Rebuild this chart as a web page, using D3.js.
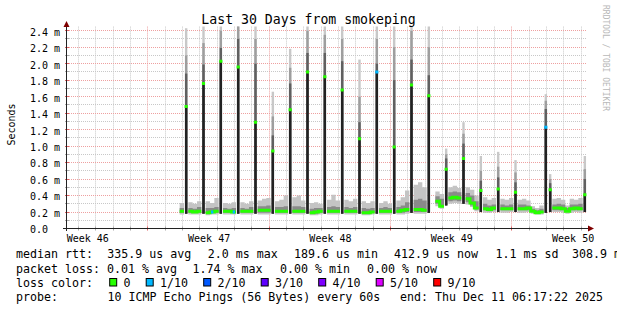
<!DOCTYPE html>
<html>
<head>
<meta charset="utf-8">
<script src="https://cdn.jsdelivr.net/npm/d3@7"></script>
<style>
  body { margin: 0; background: #fff; }
  text { font-family: "DejaVu Sans Mono", monospace; }
</style>
</head>
<body>
<div id="chart"></div>
<script>
// x axis: days since start of the 30 day window
const weekLabels = ["Week 46", "Week 47", "Week 48", "Week 49", "Week 50"];
const weekStartDays = [-2.33, 4.67, 11.67, 18.67, 25.67];

const yTickValues = [0, 0.2, 0.4, 0.6, 0.8, 1.0, 1.2, 1.4, 1.6, 1.8, 2.0, 2.2, 2.4];
const yTickLabels = ["0.0", "0.2 m", "0.4 m", "0.6 m", "0.8 m", "1.0 m", "1.2 m",
                     "1.4 m", "1.6 m", "1.8 m", "2.0 m", "2.2 m", "2.4 m"];

// 6 hour bins, first bin starts at day 6.5 (null = unknown / spike bin)
const firstBinDay = 6.5;
const binDays = 0.25;
const medianRtt = [
  0.21, null, 0.21, 0.20, 0.21, null, 0.19, 0.20, 0.21, null,
  0.21, 0.21, 0.20, null, 0.21, 0.21, 0.21, null, 0.22, 0.22,
  0.22, null, 0.21, 0.21, 0.21, null, 0.21, 0.21, 0.21, null,
  0.19, 0.20, 0.21, null, 0.21, 0.21, 0.21, null, 0.21, 0.21,
  0.21, null, 0.19, 0.19, 0.20, null, 0.21, 0.21, 0.21, null,
  0.21, 0.22, 0.23, null, 0.23, 0.23, 0.22, null, null, 0.33,
  0.27, null, 0.37, 0.38, 0.37, null, 0.36, 0.31, 0.25, null,
  0.24, 0.23, 0.25, null, 0.24, 0.24, 0.24, null, 0.24, 0.24,
  0.25, 0.21, 0.19, 0.20, null, null, 0.25, 0.25, 0.24, 0.21,
  0.24, 0.25, 0.24, null];
const smokeMin = [
  0.17, null, 0.17, 0.17, 0.17, null, 0.16, 0.17, 0.17, null,
  0.17, 0.17, 0.17, null, 0.17, 0.17, 0.17, null, 0.17, 0.17,
  0.17, null, 0.17, 0.17, 0.17, null, 0.17, 0.17, 0.17, null,
  0.16, 0.16, 0.17, null, 0.17, 0.17, 0.17, null, 0.17, 0.17,
  0.17, null, 0.16, 0.16, 0.17, null, 0.17, 0.17, 0.17, null,
  0.17, 0.17, 0.18, null, 0.18, 0.18, 0.18, null, null, 0.27,
  0.24, null, 0.30, 0.31, 0.30, null, 0.29, 0.26, 0.21, null,
  0.19, 0.19, 0.20, null, 0.19, 0.19, 0.20, null, 0.19, 0.19,
  0.20, 0.18, 0.17, 0.17, null, null, 0.20, 0.20, 0.19, 0.18,
  0.19, 0.20, 0.19, null];
const smokeLowMid = [
  0.19, null, 0.19, 0.19, 0.19, null, 0.18, 0.19, 0.19, null,
  0.19, 0.19, 0.19, null, 0.19, 0.19, 0.19, null, 0.19, 0.19,
  0.19, null, 0.19, 0.19, 0.19, null, 0.19, 0.19, 0.19, null,
  0.18, 0.18, 0.19, null, 0.19, 0.19, 0.19, null, 0.19, 0.19,
  0.19, null, 0.18, 0.18, 0.19, null, 0.19, 0.19, 0.19, null,
  0.19, 0.19, 0.20, null, 0.20, 0.20, 0.20, null, null, 0.30,
  0.26, null, 0.33, 0.34, 0.33, null, 0.32, 0.28, 0.23, null,
  0.22, 0.21, 0.22, null, 0.22, 0.22, 0.22, null, 0.22, 0.22,
  0.22, 0.20, 0.18, 0.19, null, null, 0.22, 0.22, 0.22, 0.20,
  0.22, 0.22, 0.22, null];
const smokeHighMid = [
  0.25, null, 0.25, 0.24, 0.26, null, 0.25, 0.25, 0.26, null,
  0.25, 0.24, 0.25, null, 0.25, 0.24, 0.26, null, 0.27, 0.27,
  0.28, null, 0.26, 0.26, 0.27, null, 0.27, 0.27, 0.26, null,
  0.24, 0.25, 0.25, null, 0.26, 0.27, 0.26, null, 0.26, 0.25,
  0.26, null, 0.25, 0.24, 0.25, null, 0.25, 0.26, 0.25, null,
  0.26, 0.28, 0.32, null, 0.35, 0.36, 0.34, null, null, 0.39,
  0.36, null, 0.44, 0.45, 0.44, null, 0.43, 0.40, 0.33, null,
  0.30, 0.28, 0.29, null, 0.29, 0.28, 0.29, null, 0.29, 0.29,
  0.28, 0.24, 0.22, 0.24, null, null, 0.29, 0.30, 0.29, 0.25,
  0.29, 0.29, 0.30, null];
const smokeMax = [
  0.31, null, 0.32, 0.30, 0.33, null, 0.33, 0.31, 0.37, null,
  0.31, 0.30, 0.32, null, 0.32, 0.30, 0.33, null, 0.34, 0.36,
  0.37, null, 0.33, 0.35, 0.40, null, 0.38, 0.40, 0.34, null,
  0.31, 0.32, 0.30, null, 0.35, 0.41, 0.34, null, 0.35, 0.33,
  0.36, null, 0.33, 0.31, 0.33, null, 0.31, 0.33, 0.30, null,
  0.34, 0.38, 0.46, null, 0.53, 0.56, 0.50, null, null, 0.45,
  0.42, null, 0.50, 0.52, 0.49, null, 0.50, 0.47, 0.40, null,
  0.38, 0.35, 0.37, null, 0.36, 0.35, 0.37, null, 0.35, 0.36,
  0.34, 0.27, 0.25, 0.28, null, null, 0.36, 0.37, 0.35, 0.28,
  0.36, 0.35, 0.37, null];
// bins with packet loss (count out of 10)
const lossBins = [7, 12];
const lossBinCount = [1, 1];

// daily spikes
const spikeDays = [6.875, 7.875, 8.875, 9.875, 10.875, 11.875, 12.875, 13.875, 14.875,
  15.875, 16.875, 17.875, 18.875, 19.875, 20.875, 21.875, 22.875, 23.875, 24.875,
  25.875, 27.625, 27.875, 29.875];
const spikeBase = [0.18, 0.18, 0.18, 0.18, 0.18, 0.18, 0.18, 0.18, 0.18, 0.18, 0.18, 0.18,
  0.18, 0.19, 0.19, 0.28, 0.30, 0.20, 0.20, 0.20, 0.19, 0.20, 0.20];
const spikeMedian = [1.48, 1.76, 2.03, 1.96, 1.29, 0.94, 1.44, 1.90, 1.84, 1.68, 1.09, 1.90,
  0.99, 1.74, 1.61, 0.72, 0.85, 0.46, 0.48, 0.44, 1.23, 0.47, 0.41];
const spikeUpper = [1.88, 1.99, 2.19, 2.30, 2.00, 1.13, 1.76, 2.13, 2.13, 2.03, 1.29, 2.00,
  1.80, 2.05, 1.86, 0.85, 1.03, 0.58, 0.62, 0.56, 1.45, 0.55, 0.60];
const spikeMid = [2.10, 2.25, 2.40, 2.50, 2.30, 1.36, 1.95, 2.40, 2.35, 2.30, 1.60, 2.30,
  2.20, 2.40, 2.20, 0.90, 1.15, 0.70, 0.75, 0.68, 1.55, 0.60, 0.72];
const spikeTop = [2.43, 2.60, 2.60, 2.60, 2.60, 1.66, 2.18, 2.60, 2.60, 2.60, 2.05, 2.60,
  2.60, 2.60, 2.60, 0.97, 1.29, 0.88, 0.93, 0.83, 1.63, 0.66, 0.88];
const spikeLoss = [0, 0, 0, 0, 0, 0, 0, 0, 0, 0, 0, 1, 0, 0, 0, 0, 0, 0, 0, 0, 1, 0, 0];

// legend
const lossLabels = ["0", "1/10", "2/10", "3/10", "4/10", "5/10", "9/10"];
const lossCounts = [0, 1, 2, 3, 4, 5, 9];
const lossColors = ["#26ff00", "#00b8ff", "#0059ff", "#5e00ff", "#7e00ff", "#dd00ff", "#ff0000"];
const rttLegend = ["median rtt:", "335.9 us avg", "2.0 ms max", "189.6 us min",
                   "412.9 us now", "1.1 ms sd", "308.9 m am/as"];
const lossLegend = ["packet loss:", "0.01 % avg", "1.74 % max", "0.00 % min", "0.00 % now"];
const probeLegend = ["probe:", "10 ICMP Echo Pings (56 Bytes) every 60s",
                     "end: Thu Dec 11 06:17:22 2025"];

const width = 617, height = 310;
const plot = { left: 67, right: 587, top: 26.6, bottom: 228.5 };

const svg = d3.select("#chart").append("svg")
    .attr("width", width)
    .attr("height", height);

svg.append("rect").attr("width", width).attr("height", height).attr("fill", "#fff");

const x = d3.scaleLinear().domain([0, 30]).range([plot.left, plot.right]);
const y = d3.scaleLinear().domain([0, 2.45]).range([plot.bottom, plot.top]);
const crisp = v => Math.round(v - 0.5) + 0.5;
const lossColor = c => lossColors[lossCounts.indexOf(c)];

// grid
const minorY = d3.range(0.1, 2.45, 0.2);
const dayLines = d3.range(weekStartDays[0], 30, 1).filter(d => d > 0.01);
const isWeek = d => weekStartDays.some(w => Math.abs(w - d) < 0.01);
const grid = svg.append("g");
grid.selectAll(".vmin").data(dayLines.filter(d => !isWeek(d)))
    .enter().append("line")
    .attr("x1", d => crisp(x(d))).attr("x2", d => crisp(x(d)))
    .attr("y1", plot.top).attr("y2", plot.bottom)
    .attr("stroke", "#c8c8c8").attr("stroke-dasharray", "1,1");
grid.selectAll(".hmin").data(minorY).enter().append("line")
    .attr("x1", plot.left).attr("x2", plot.right)
    .attr("y1", d => crisp(y(d))).attr("y2", d => crisp(y(d)))
    .attr("stroke", "#c8c8c8").attr("stroke-dasharray", "1,1");
grid.selectAll(".vmaj").data(weekStartDays.filter(d => d > 0)).enter().append("line")
    .attr("x1", d => crisp(x(d))).attr("x2", d => crisp(x(d)))
    .attr("y1", plot.top).attr("y2", plot.bottom)
    .attr("stroke", "#eea0a0").attr("stroke-dasharray", "1,1");
grid.selectAll(".hmaj").data(yTickValues.filter(d => d > 0)).enter().append("line")
    .attr("x1", plot.left).attr("x2", plot.right)
    .attr("y1", d => crisp(y(d))).attr("y2", d => crisp(y(d)))
    .attr("stroke", "#eea0a0").attr("stroke-dasharray", "1,1");

// clip
svg.append("clipPath").attr("id", "clip").append("rect")
    .attr("x", plot.left).attr("y", plot.top)
    .attr("width", plot.right - plot.left).attr("height", plot.bottom - plot.top);
const data = svg.append("g").attr("clip-path", "url(#clip)");

// baseline smoke as step areas
const bins = medianRtt.map((m, i) => ({
    d0: firstBinDay + i * binDays,
    d1: firstBinDay + (i + 1) * binDays,
    median: m, min: smokeMin[i], lowMid: smokeLowMid[i],
    highMid: smokeHighMid[i], max: smokeMax[i]
}));
const pts = bins.flatMap(b => [{ day: b.d0, ...b }, { day: b.d1, ...b }]);
const defined = d => d.median != null;

data.append("path")
    .attr("d", d3.area().defined(defined).x(d => x(d.day))
        .y0(d => y(d.min)).y1(d => y(d.max))(pts))
    .attr("fill", "#c4c4c4");
data.append("path")
    .attr("d", d3.area().defined(defined).x(d => x(d.day))
        .y0(d => y(d.lowMid)).y1(d => y(d.highMid))(pts))
    .attr("fill", "#8a8a8a");

// spikes
const spikes = spikeDays.map((d, i) => ({
    day: d, base: spikeBase[i], median: spikeMedian[i], upper: spikeUpper[i],
    mid: spikeMid[i], top: spikeTop[i], loss: spikeLoss[i]
}));
const spikeW = 2.4;
const layers = [["top", "#c8c8c8"], ["mid", "#9e9e9e"], ["upper", "#606060"], ["median", "#222222"]];
layers.forEach(([key, col]) => {
    data.selectAll(".s-" + key).data(spikes).enter().append("rect")
        .attr("x", d => x(d.day) - spikeW / 2)
        .attr("width", spikeW)
        .attr("y", d => y(d[key]))
        .attr("height", d => y(d.base) - y(d[key]))
        .attr("fill", col);
});

// median line
data.append("path")
    .attr("d", d3.line().defined(defined).x(d => x(d.day)).y(d => y(d.median))(pts))
    .attr("fill", "none").attr("stroke", lossColors[0]).attr("stroke-width", 3);
data.selectAll(".lossbin").data(lossBins).enter().append("line")
    .attr("x1", i => x(bins[i].d0) + 1).attr("x2", i => x(bins[i].d1) - 1)
    .attr("y1", i => y(bins[i].median)).attr("y2", i => y(bins[i].median))
    .attr("stroke", (i, k) => lossColor(lossBinCount[k])).attr("stroke-width", 3);
data.selectAll(".smed").data(spikes).enter().append("line")
    .attr("x1", d => x(d.day) - 1.6).attr("x2", d => x(d.day) + 1.6)
    .attr("y1", d => y(d.median)).attr("y2", d => y(d.median))
    .attr("stroke", d => lossColor(d.loss)).attr("stroke-width", 3);

// axis ticks
const ticks = svg.append("g");
ticks.selectAll(".xt").data(dayLines).enter().append("line")
    .attr("x1", d => crisp(x(d))).attr("x2", d => crisp(x(d)))
    .attr("y1", plot.bottom - 2).attr("y2", plot.bottom + 2)
    .attr("stroke", d => isWeek(d) ? "#e06060" : "#aaa");
ticks.selectAll(".yt").data(d3.range(0.1, 2.45, 0.1)).enter().append("line")
    .attr("x1", plot.left - 2).attr("x2", plot.left + 2)
    .attr("y1", d => crisp(y(d))).attr("y2", d => crisp(y(d)))
    .attr("stroke", (d, i) => i % 2 ? "#e06060" : "#aaa");

// axis lines and arrows
svg.append("line").attr("x1", 63).attr("x2", 589)
    .attr("y1", plot.bottom).attr("y2", plot.bottom).attr("stroke", "#222");
svg.append("line").attr("x1", plot.left - 0.5).attr("x2", plot.left - 0.5)
    .attr("y1", 231).attr("y2", 25).attr("stroke", "#222");
svg.append("path").attr("d", `M${plot.left - 3.5},27 L${plot.left - 0.5},21 L${plot.left + 2.5},27 Z`)
    .attr("fill", "#7f0000");
svg.append("path").attr("d", `M588,${plot.bottom - 3} L594,${plot.bottom} L588,${plot.bottom + 3} Z`)
    .attr("fill", "#7f0000");

// x labels
svg.append("g")
    .attr("transform", `translate(0,${plot.bottom})`)
    .call(d3.axisBottom(x).tickValues(weekStartDays.map(d => d + 3.5))
        .tickFormat((d, i) => weekLabels[i]).tickSize(0))
    .call(g => g.select(".domain").remove())
    .attr("font-family", "DejaVu Sans Mono").attr("font-size", 10)
    .selectAll("text").attr("y", 13).attr("dy", 0).attr("fill", "#000");

// y labels
svg.append("g")
    .attr("transform", `translate(${plot.left},0)`)
    .call(d3.axisLeft(y).tickValues(yTickValues)
        .tickFormat((d, i) => yTickLabels[i]).tickSize(0))
    .call(g => g.select(".domain").remove())
    .attr("font-family", "DejaVu Sans Mono").attr("font-size", 10)
    .selectAll("text").attr("x", 30 - plot.left).attr("dy", "0.44em")
    .attr("text-anchor", "start").attr("fill", "#000");

// titles
svg.append("text").attr("x", 308.5).attr("y", 24).attr("text-anchor", "middle")
    .style("font-size", "13.2px").text("Last 30 Days from smokeping");
svg.append("text").attr("transform", "translate(15,124.5) rotate(-90)")
    .attr("text-anchor", "middle").style("font-size", "10px").text("Seconds");
svg.append("text").attr("transform", "translate(603,5) rotate(90)")
    .style("font-size", "8px").attr("fill", "#b8b8b8").text("RRDTOOL / TOBI OETIKER");

// legend
const legendFont = "11.63px";
const rttX = [16, 107.2, 207.7, 293.9, 394, 495.6, 572];
const lossX = [16, 107.1, 192.5, 280.1, 367.1];
const probeX = [16, 107.4, 400];
const legendRows = [[rttLegend, rttX, 258.3], [lossLegend, lossX, 272.5], [probeLegend, probeX, 300.5]];
legendRows.forEach(([items, xs, yy]) => {
    svg.selectAll(null).data(items).enter().append("text")
        .attr("x", (d, i) => xs[i]).attr("y", yy)
        .style("font-size", legendFont).style("white-space", "pre")
        .text(d => d);
});
svg.append("text").attr("x", 16).attr("y", 286.7).style("font-size", legendFont).text("loss color:");
let lx = 109.2;
lossLabels.forEach((lab, i) => {
    svg.append("rect").attr("x", lx + 0.5).attr("y", 278.5)
        .attr("width", 7).attr("height", 7.5)
        .attr("fill", lossColors[i]).attr("stroke", "#000");
    const t = svg.append("text").attr("x", lx + 14.2).attr("y", 286.7)
        .style("font-size", legendFont).text(lab);
    lx = lx + 14.2 + t.node().getComputedTextLength() + 15.3;
});
</script>
</body>
</html>
